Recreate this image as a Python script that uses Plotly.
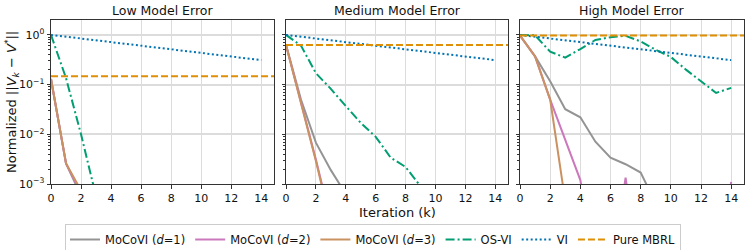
import plotly.graph_objects as go

iters = list(range(15))

# ---- Low model error ----
low_mocovi1 = [0.13, 0.0026, 0.00058, 0.0001, 2e-05, 5e-06, 1e-06, 3e-07, 1e-07, 5e-08, 2e-08, 1e-08, 5e-09, 2e-09, 1e-09]
low_mocovi2 = [0.13, 0.0026, 0.00065, 0.0001, 2e-05, 5e-06, 1e-06, 3e-07, 1e-07, 5e-08, 2e-08, 1e-08, 5e-09, 2e-09, 1e-09]
low_mocovi3 = [0.13, 0.0026, 0.00074, 0.00012, 2e-05, 5e-06, 1e-06, 3e-07, 1e-07, 5e-08, 2e-08, 1e-08, 5e-09, 2e-09, 1e-09]
low_osvi = [1.0, 0.135, 0.010, 0.00039, 1e-05, 1e-06, 1e-07, 1e-08, 1e-09, 1e-09, 1e-09, 1e-09, 1e-09, 1e-09, 1e-09]
low_mbrl = 0.147

# ---- Medium model error ----
med_mocovi1 = [0.63, 0.05, 0.0068, 0.0019, 0.00063, 0.0001, 2e-05, 5e-06, 1e-06, 3e-07, 1e-07, 5e-08, 2e-08, 1e-08, 5e-09]
med_mocovi2 = [0.63, 0.045, 0.0031, 0.00018, 2e-05, 5e-06, 1e-06, 3e-07, 1e-07, 5e-08, 2e-08, 1e-08, 5e-09, 2e-09, 1e-09]
med_mocovi3 = [0.63, 0.043, 0.0029, 0.00016, 2e-05, 5e-06, 1e-06, 3e-07, 1e-07, 5e-08, 2e-08, 1e-08, 5e-09, 2e-09, 1e-09]
med_osvi = [1.0, 0.61, 0.17, 0.082, 0.037, 0.017, 0.0089, 0.0034, 0.0022, 0.0009, 0.0002, 5e-05, 1e-05, 3e-06, 1e-06]
med_mbrl = 0.63

# ---- High model error ----
high_mocovi1 = [0.97, 0.37, 0.117, 0.032, 0.022, 0.0071, 0.0034, 0.0025, 0.0017, 0.0004, 8e-05, 2e-05, 5e-06, 1e-06, 3e-07]
high_mocovi2 = [0.97, 0.37, 0.05, 0.0074, 0.0012, 2e-05, 1e-05, 0.00135, 1e-05, 5e-06, 3e-06, 2e-06, 1e-06, 1e-05, 0.0011]
high_mocovi3 = [0.97, 0.37, 0.05, 0.00045, 2e-05, 5e-06, 1e-06, 3e-07, 1e-07, 5e-08, 2e-08, 1e-08, 5e-09, 2e-09, 1e-09]
high_osvi = [1.0, 0.98, 0.46, 0.35, 0.52, 0.79, 0.9, 0.96, 0.74, 0.5, 0.36, 0.2, 0.117, 0.068, 0.086]
high_mbrl = 0.97

# ---- VI (same in all panels) ----
vi = [1.0, 0.92, 0.846, 0.779, 0.716, 0.659, 0.606, 0.558, 0.513, 0.472, 0.434, 0.4, 0.368, 0.338, 0.311]

titles = ["Low Model Error", "Medium Model Error", "High Model Error"]
mbrl_x = [0, 15]

panels = [
    (low_mocovi1, low_mocovi2, low_mocovi3, low_osvi, low_mbrl),
    (med_mocovi1, med_mocovi2, med_mocovi3, med_osvi, med_mbrl),
    (high_mocovi1, high_mocovi2, high_mocovi3, high_osvi, high_mbrl),
]

C_GRAY = "#949494"
C_PINK = "#cc78bc"
C_BROWN = "#ca9161"
C_GREEN = "#029e73"
C_BLUE = "#0173b2"
C_ORANGE = "#de8f05"

FONT = "DejaVu Sans"

fig = go.Figure()

W = 693.0
domains = [(0, 223 / W), (235 / W, 457 / W), (469 / W, 1.0)]

for i, (m1, m2, m3, os_, mb) in enumerate(panels):
    xa = "x" if i == 0 else f"x{i+1}"
    ya = "y" if i == 0 else f"y{i+1}"
    show = i == 0
    fig.add_trace(go.Scatter(x=iters, y=m1, mode="lines", name="MoCoVI (<i>d</i>=1)",
                             line=dict(color=C_GRAY, width=2), xaxis=xa, yaxis=ya,
                             showlegend=show, legendgroup="m1"))
    fig.add_trace(go.Scatter(x=iters, y=m2, mode="lines", name="MoCoVI (<i>d</i>=2)",
                             line=dict(color=C_PINK, width=2), xaxis=xa, yaxis=ya,
                             showlegend=show, legendgroup="m2"))
    fig.add_trace(go.Scatter(x=iters, y=m3, mode="lines", name="MoCoVI (<i>d</i>=3)",
                             line=dict(color=C_BROWN, width=2), xaxis=xa, yaxis=ya,
                             showlegend=show, legendgroup="m3"))
    fig.add_trace(go.Scatter(x=iters, y=os_, mode="lines", name="OS-VI",
                             line=dict(color=C_GREEN, width=2, dash="9px,3px,2px,3px"),
                             xaxis=xa, yaxis=ya, showlegend=show, legendgroup="os"))
    fig.add_trace(go.Scatter(x=iters, y=vi, mode="lines", name="VI",
                             line=dict(color=C_BLUE, width=2, dash="2px,2.5px"),
                             xaxis=xa, yaxis=ya, showlegend=show, legendgroup="vi"))
    fig.add_trace(go.Scatter(x=mbrl_x, y=[mb, mb], mode="lines", name="Pure MBRL",
                             line=dict(color=C_ORANGE, width=2, dash="7px,3px"),
                             xaxis=xa, yaxis=ya, showlegend=show, legendgroup="mb"))

minor_vals = []
for e in [-3, -2, -1, 0]:
    for m in range(2, 10):
        minor_vals.append(m * 10 ** e)

for i in range(3):
    xkey = "xaxis" if i == 0 else f"xaxis{i+1}"
    ykey = "yaxis" if i == 0 else f"yaxis{i+1}"
    fig.layout[xkey] = dict(
        domain=domains[i], anchor="y" if i == 0 else f"y{i+1}",
        range=[0, 14.85], tickvals=list(range(0, 15, 2)),
        showgrid=True, gridcolor="#dcdcdc", gridwidth=1,
        showline=True, linecolor="#333333", linewidth=1, mirror=True,
        ticks="outside", ticklen=3.5, tickcolor="#333333",
        tickfont=dict(family=FONT, size=11, color="#111"), zeroline=False,
    )
    fig.layout[ykey] = dict(
        type="log", range=[-3, 0.3], anchor="x" if i == 0 else f"x{i+1}",
        tickvals=[1e-3, 1e-2, 1e-1, 1],
        ticktext=["10<sup>−3</sup>", "10<sup>−2</sup>", "10<sup>−1</sup>", "10<sup>0</sup>"],
        showticklabels=(i == 0),
        showgrid=True, gridcolor="#dcdcdc", gridwidth=1.5,
        showline=True, linecolor="#333333", linewidth=1, mirror=True,
        ticks="outside", ticklen=3.5, tickcolor="#333333",
        tickfont=dict(family=FONT, size=11, color="#111"), zeroline=False,
        minor=dict(tickmode="array", tickvals=minor_vals, ticks="outside",
                   ticklen=2, tickcolor="#333333", showgrid=False),
    )

annotations = []
for i in range(3):
    annotations.append(dict(text=titles[i], x=(domains[i][0] + domains[i][1]) / 2, y=1,
                            xref="paper", yref="paper", xanchor="center", yanchor="bottom",
                            yshift=0, showarrow=False,
                            font=dict(family=FONT, size=12.5, color="#111")))
annotations.append(dict(text="Iteration (k)", x=0.5, y=-0.09, xref="paper", yref="paper",
                        xanchor="center", yanchor="top", yshift=-4, showarrow=False,
                        font=dict(family=FONT, size=13, color="#111")))
annotations.append(dict(text="Normalized ||<i>V</i><sub><i>k</i></sub> − <i>V</i><sup>*</sup>||",
                        x=-0.0563, y=0.5, xref="paper", yref="paper", textangle=-90,
                        xanchor="center", yanchor="middle", showarrow=False,
                        font=dict(family=FONT, size=13, color="#111")))

fig.update_layout(
    width=747, height=250,
    margin=dict(l=51, r=3, t=20, b=66, autoexpand=False),
    plot_bgcolor="white", paper_bgcolor="white",
    annotations=annotations,
    font=dict(family=FONT, size=11, color="#111"),
    legend=dict(orientation="h", xref="container", x=0.4993, xanchor="center",
                yref="container", y=0.104, yanchor="top",
                bordercolor="#cccccc", borderwidth=1,
                font=dict(family=FONT, size=11.5, color="#111"),
                itemwidth=30, tracegroupgap=0),
)

fig.write_html("out.html",
               config={"displayModeBar": False},
               post_script="document.body.style.margin='0';document.body.style.overflow='hidden';")
